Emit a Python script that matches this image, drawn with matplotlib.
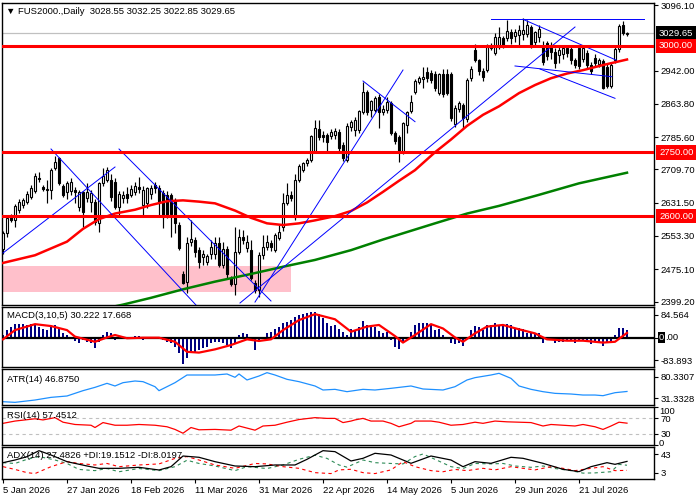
import numpy as np
import matplotlib
matplotlib.use("Agg")
from matplotlib import pyplot as plt

plt.rcParams['font.family'] = ['Liberation Sans', 'DejaVu Sans']
plt.rcParams['font.size'] = 6.8

HEADER = "\u25BC FUS2000.,Daily  3028.55 3032.25 3022.85 3029.65"
MACD_TITLE = "MACD(3,10,5) 30.222 17.668"
ATR_TITLE = "ATR(14) 46.8750"
RSI_TITLE = "RSI(14) 57.4512"
ADX_TITLE = "ADX(14) 27.4826 +DI:19.1512 -DI:8.0197"

DATE_TICKS = [0, 16, 32, 48, 64, 80, 96, 112, 128, 144]
DATE_LABELS = ["5 Jan 2026", "27 Jan 2026", "18 Feb 2026", "11 Mar 2026", "31 Mar 2026",
               "22 Apr 2026", "14 May 2026", "5 Jun 2026", "29 Jun 2026", "21 Jul 2026"]

# daily candles
OPENS = [2522, 2560, 2598, 2590, 2614, 2626, 2634, 2645, 2660, 2690,
         2668, 2662, 2662, 2712, 2736, 2671, 2656, 2660, 2661, 2622,
         2657, 2642, 2632, 2634, 2584, 2677, 2686, 2685, 2680, 2622,
         2642, 2653, 2650, 2657, 2669, 2626, 2630, 2653, 2673, 2665,
         2655, 2650, 2650, 2638, 2579, 2463, 2446, 2538, 2544, 2520,
         2503, 2493, 2511, 2511, 2536, 2485, 2522, 2454, 2440, 2516,
         2552, 2524, 2520, 2442, 2426, 2508, 2528, 2536, 2520, 2548,
         2575, 2630, 2650, 2599, 2686, 2708, 2724, 2733, 2752, 2804,
         2790, 2790, 2788, 2790, 2798, 2768, 2733, 2810, 2802, 2802,
         2845, 2892, 2849, 2849, 2880, 2845, 2849, 2865, 2796, 2786,
         2751, 2814, 2847, 2892, 2914, 2922, 2938, 2937, 2935, 2890,
         2934, 2934, 2933, 2816, 2852, 2860, 2828, 2924, 2990, 2966,
         2942, 2943, 2996, 2984, 2998, 3018, 3018, 3032, 3024, 3026,
         3028, 3028, 3045, 3008, 3020, 3000, 3006, 3002, 2985, 2978,
         2982, 2994, 2992, 2966, 2994, 2970, 2984, 2955, 2972, 2958,
         2964, 2950, 2905, 2967, 2992, 3050, 3028.55]
HIGHS = [2566, 2601, 2604, 2628, 2640, 2642, 2660, 2672, 2702, 2703,
         2672, 2685, 2712, 2742, 2740, 2675, 2682, 2690, 2668, 2662,
         2660, 2677, 2662, 2640, 2680, 2712, 2715, 2700, 2690, 2660,
         2660, 2668, 2672, 2680, 2692, 2670, 2668, 2672, 2680, 2672,
         2662, 2658, 2654, 2642, 2585, 2470, 2550, 2590, 2550, 2528,
         2520, 2512, 2545, 2550, 2552, 2540, 2530, 2460, 2575, 2570,
         2568, 2555, 2545, 2450, 2515, 2555, 2556, 2545, 2560, 2578,
         2655, 2677, 2660, 2700, 2722, 2728, 2736, 2790, 2827, 2826,
         2800, 2795, 2805, 2808, 2805, 2775, 2818, 2826, 2832, 2850,
         2915, 2896, 2872, 2883, 2886, 2860, 2880, 2870, 2800, 2790,
         2822, 2848, 2885, 2922, 2930, 2950, 2950, 2944, 2940, 2937,
         2946, 2945, 2938, 2860, 2870, 2866, 2925, 2952, 3005, 2970,
         2948, 3004, 3006, 3030, 3045, 3024, 3061, 3040, 3040, 3050,
         3065, 3062, 3050, 3036, 3050, 3012, 3012, 3010, 2995, 2998,
         3002, 3000, 2998, 2972, 2998, 2998, 2990, 2962, 2980, 2972,
         2970, 2958, 2962, 2998, 3052, 3058, 3032.25]
LOWS = [2510, 2552, 2585, 2575, 2608, 2620, 2628, 2640, 2655, 2680,
        2660, 2630, 2640, 2708, 2672, 2645, 2640, 2650, 2630, 2612,
        2575, 2632, 2610, 2578, 2563, 2670, 2680, 2636, 2616, 2602,
        2630, 2630, 2645, 2650, 2655, 2603, 2620, 2640, 2655, 2598,
        2571, 2596, 2552, 2560, 2520, 2440, 2420, 2530, 2505, 2477,
        2485, 2484, 2500, 2500, 2480, 2478, 2455, 2436, 2415, 2510,
        2535, 2515, 2450, 2420, 2410, 2500, 2520, 2518, 2515, 2544,
        2565, 2625, 2635, 2590, 2680, 2704, 2718, 2728, 2748, 2780,
        2775, 2748, 2782, 2782, 2752, 2730, 2728, 2800, 2788, 2796,
        2840, 2838, 2834, 2845, 2806, 2838, 2842, 2790, 2770, 2728,
        2745, 2795, 2842, 2888, 2910, 2900, 2915, 2912, 2895, 2884,
        2880, 2884, 2824, 2810, 2845, 2806, 2820, 2918, 2962, 2932,
        2918, 2938, 2990, 2978, 2992, 2995, 3012, 3005, 3010, 3000,
        3015, 3020, 2995, 3002, 3010, 2955, 2968, 2970, 2948, 2960,
        2970, 2975, 2958, 2948, 2946, 2962, 2948, 2935, 2950, 2950,
        2898, 2900, 2900, 2960, 2986, 3025, 3022.85]
CLOSES = [2560, 2595, 2590, 2624, 2634, 2638, 2652, 2666, 2695, 2688,
          2664, 2664, 2708, 2726, 2677, 2650, 2678, 2680, 2656, 2657,
          2610, 2657, 2655, 2587, 2677, 2694, 2708, 2645, 2622, 2652,
          2650, 2642, 2663, 2671, 2663, 2661, 2665, 2665, 2665, 2634,
          2599, 2603, 2606, 2583, 2524, 2442, 2536, 2546, 2516, 2493,
          2512, 2506, 2527, 2536, 2485, 2522, 2465, 2440, 2516, 2552,
          2544, 2540, 2454, 2426, 2508, 2528, 2540, 2528, 2556, 2563,
          2630, 2650, 2642, 2685, 2718, 2724, 2733, 2788, 2806, 2787,
          2786, 2775, 2797, 2800, 2760, 2736, 2812, 2820, 2826, 2847,
          2892, 2845, 2870, 2877, 2845, 2851, 2869, 2796, 2777, 2751,
          2818, 2844, 2869, 2918, 2924, 2926, 2925, 2920, 2902, 2933,
          2888, 2890, 2830, 2855, 2865, 2830, 2920, 2946, 2967, 2940,
          2926, 2998, 3001, 3022, 3020, 2999, 3035, 3018, 3033, 3038,
          3038, 3050, 3002, 3032, 3040, 2963, 2976, 2985, 2960, 2990,
          2996, 2984, 2966, 2955, 2952, 2994, 2955, 2940, 2959, 2967,
          2902, 2905, 2955, 2992, 3046, 3030, 3029.65]
LAST_PRICE = 3029.65

# moving averages (bar index, price)
MA_RED_X = [0, 8, 16, 20, 24, 28, 33, 37, 41, 45, 49, 53, 58, 62, 66, 70, 74, 78,
            83, 87, 91, 95, 99, 103, 108, 112, 116, 120, 124, 129, 133, 137, 141,
            145, 150, 156]
MA_RED_Y = [2490, 2508, 2540, 2570, 2593, 2606, 2615, 2626, 2635, 2637, 2634, 2630,
            2613, 2596, 2583, 2579, 2583, 2590, 2600, 2612, 2632, 2657, 2683, 2708,
            2750, 2780, 2812, 2838, 2858, 2889, 2908, 2924, 2935, 2943, 2955, 2968]
MA_GREEN_X = [22, 30, 37, 45, 53, 62, 70, 78, 87, 95, 108, 116, 124, 134, 144, 156]
MA_GREEN_Y = [2376, 2392, 2408, 2428, 2446, 2464, 2481, 2497, 2520, 2545, 2583,
              2606, 2624, 2650, 2677, 2702]

LEVELS = [3000.00, 2750.00, 2600.00]
ZONE = (-0.25, 72, 2422, 2483)   # start bar, end bar, low, high

# trend lines: start bar, start price, end bar, end price
TRENDLINES = [
    (12, 2757.7, 48.25, 2391.0),
    (29, 2757.7, 67, 2400.5),
    (0, 2513.3, 28, 2715.4),
    (63, 2398.0, 100, 2943.3),
    (59.25, 2395.8, 143, 3044.4),
    (90, 2917.5, 103, 2821.9),
    (122, 3062.5, 160.25, 3062.5),
    (130, 3062.5, 153.25, 2966.8),
    (128, 2952.8, 152.2, 2927.6),
    (134.25, 2945.7, 153, 2876.8),
]

PRICE_TICKS = [3096.10, 2942.00, 2863.80, 2785.60, 2709.70, 2631.50, 2553.30, 2475.10, 2399.20]

MACD_MAIN = [10, 28, 41, 50, 50, 50, 47, 50, 47, 41,
             31, 28, 41, 47, 34, 16, 10, 4, -12, -21,
             -9, -15, -21, -37, -15, 10, 22, 16, -9, -6,
             -2, 1, 4, 6, 6, -9, -6, 1, 4, -6,
             -9, -15, -21, -33, -58, -98, -76, -58, -52, -46,
             -39, -33, -21, -15, -15, -21, -27, -39, -21, 10,
             18, 14, -6, -46, -11, 4, 18, 22, 31, 38,
             53, 59, 65, 77, 84, 87, 90, 96, 95, 87,
             71, 53, 43, 47, 31, 22, 10, 31, 26, 41,
             62, 47, 41, 41, 26, 18, 22, -9, -33, -43,
             -15, 4, 22, 47, 53, 53, 53, 47, 28, 31,
             10, 4, -21, -23, -18, -31, 4, 28, 43, 41,
             28, 47, 47, 55, 47, 47, 50, 47, 34, 34,
             31, 16, 16, 16, 16, -21, -6, -9, -18, -15,
             -15, -11, -9, -21, -11, -9, -15, -23, -15, -18,
             -31, -21, -18, 10, 35, 36, 30.222]
MACD_SIG_X = [0, 3, 8, 12, 16, 18, 23, 26, 28, 31, 35, 39, 43, 46, 49, 53, 57, 61,
              64, 67, 70, 74, 78, 83, 87, 91, 94, 98, 100, 103, 107, 110, 113, 115,
              118, 121, 125, 129, 133, 136, 141, 145, 150, 153, 156]
MACD_SIG_Y = [-6, 28, 50, 43, 28, 4, -15, 1, 10, -2, 0, 0, -15, -52, -55, -43, -27, -6,
              -12, -6, 28, 65, 87, 68, 22, 41, 47, 6, -18, 10, 50, 34, 1, -15,
              16, 41, 47, 31, 16, -6, -11, -11, -18, -15, 17.668]

ATR_X = [0, 3, 8, 12, 16, 20, 23, 26, 28, 30, 33, 35, 38, 39, 41, 43, 46, 49, 53, 56,
         58, 59, 61, 64, 66, 68, 71, 74, 78, 80, 83, 86, 90, 93, 97, 102, 105, 110,
         113, 116, 118, 122, 124, 127, 129, 132, 135, 138, 142, 145, 148, 150, 153, 156]
ATR_Y = [23.7, 22.2, 27.5, 33.5, 36.6, 48.7, 56.2, 65.3, 59.3, 66.8, 70.6, 69.1, 57.7,
         48.7, 57.7, 66.8, 84.2, 84.2, 84.2, 86.5, 79.0, 86.5, 72.9, 81.9, 89.5, 84.2,
         74.4, 69.1, 59.3, 50.2, 51.7, 46.4, 51.7, 50.2, 54.0, 59.3, 52.5, 50.2, 57.7,
         72.9, 78.2, 84.2, 88.0, 76.6, 59.3, 51.7, 46.4, 42.6, 41.1, 38.8, 38.8, 37.3,
         44.1, 46.875]

RSI_X = [0, 3, 8, 10, 13, 15, 18, 22, 23, 25, 28, 31, 34, 38, 41, 43, 45, 47, 49, 53,
         57, 59, 63, 65, 68, 71, 74, 78, 81, 83, 85, 87, 88, 90, 92, 95, 97, 99, 102,
         103, 107, 109, 112, 115, 118, 120, 123, 126, 129, 132, 135, 137, 140, 143,
         145, 148, 150, 152, 154, 156]
RSI_Y = [57, 63, 69, 66, 72, 60, 54, 52, 46, 59, 52, 52, 54, 52, 48, 41, 31, 46, 40, 41,
         39, 50, 39, 50, 52, 60, 67, 72, 70, 70, 59, 63, 66, 70, 63, 63, 57, 48, 57,
         63, 63, 60, 52, 54, 60, 57, 63, 61, 60, 59, 50, 54, 52, 50,
         54, 48, 41, 50, 60, 57.45]

ADX_X = [0, 3, 6, 9, 12, 16, 21, 24, 29, 34, 39, 42, 45, 49, 53, 58, 63, 68, 73, 76,
         80, 83, 87, 90, 93, 97, 102, 107, 112, 115, 118, 122, 127, 130, 135, 140,
         144, 147, 151, 153, 156]
ADX_Y = [24.7, 30.5, 37.8, 50.8, 41.4, 26.9, 17.5, 12.4, 12.4, 14.6, 8.8, 16.0, 39.2,
         36.4, 26.9, 17.5, 16.0, 19.7, 19.7, 32.0, 50.8, 48.7, 28.4, 34.2, 45.1, 41.4,
         23.3, 39.2, 30.5, 16.0, 26.9, 23.3, 36.4, 34.2, 23.3, 10.3, 5.2, 16.0, 24.7,
         21.1, 27.48]
PDI_X = [0, 3, 6, 9, 13, 16, 19, 23, 26, 29, 34, 39, 43, 46, 49, 53, 58, 61, 66, 70,
         74, 78, 81, 84, 86, 90, 93, 97, 100, 103, 105, 108, 112, 115, 118, 122, 125,
         128, 132, 135, 138, 142, 145, 148, 152, 154, 156]
PDI_Y = [24.7, 23, 32, 38, 30.5, 23, 10, 7.4, 12, 5, 12, 7.4, 16, 30, 23, 17.5, 7.4,
         16, 12, 19.7, 32, 41, 34, 19.7, 15, 30.5, 24.7, 23, 22, 38, 43.6, 32, 16, 12,
         23, 22, 23, 17.5, 14.6, 17.5, 12, 7.4, 2, 2.5, 5, 21, 19.15]
MDI_X = [0, 3, 6, 8, 12, 16, 19, 23, 26, 29, 34, 39, 43, 46, 49, 53, 58, 63, 66, 70,
         74, 78, 82, 84, 87, 90, 93, 97, 100, 103, 107, 110, 113, 116, 120, 123, 127,
         130, 133, 137, 140, 143, 147, 150, 153, 156]
MDI_Y = [16, 10, 3, 1, 16, 27, 23, 19.7, 23, 16, 19.7, 22, 34, 38, 30.5, 19.7, 12.4,
         23, 22, 16, 12.4, 3, 1, 9, 10.3, 3, 1, 9, 27, 16, 7.4, 5, 10, 7.4, 12.4, 9,
         16, 12.4, 9, 16, 12.4, 7.4, 12.4, 16, 7.4, 8.02]

RED = '#ff0000'
XMIN, XMAX = -0.25, 162.75
LABEL_X = 1 + 5 / 652   # right-axis label start, in axes fraction

fig = plt.figure(figsize=(7, 5), dpi=100)


def panel(top, bottom):
    return fig.add_axes([2 / 700, 1 - bottom / 500, 652 / 700, (bottom - top) / 500])


ax = panel(3, 305)
ax_macd = panel(307, 367)
ax_atr = panel(369, 405)
ax_rsi = panel(407, 445)
ax_adx = panel(447, 479)
axes = [ax, ax_macd, ax_atr, ax_rsi, ax_adx]

for a in axes:
    a.set_xlim(XMIN, XMAX)
    a.yaxis.tick_right()
    a.tick_params(axis='y', direction='out', length=3, width=0.8, pad=2, labelsize=6.8)
    a.tick_params(axis='x', bottom=False, labelbottom=False)
    for s in a.spines.values():
        s.set_linewidth(1.0)
        s.set_color('black')

# ---- price panel ----
x = np.arange(len(CLOSES))
o, h, l, c = (np.array(v, dtype=float) for v in (OPENS, HIGHS, LOWS, CLOSES))
up = c >= o
body_lo = np.minimum(o, c)
body_h = np.maximum(np.abs(c - o), 0.8)

z0, z1, zlo, zhi = ZONE
ax.fill_between([z0, z1], zlo, zhi, color='#ffc0cb', lw=0, zorder=1)
ax.axhline(LAST_PRICE, color='#c0c0c0', lw=0.9, zorder=1.5)

ax.vlines(x, l, h, color='black', lw=0.85, zorder=3)
ax.bar(x[up], body_h[up], bottom=body_lo[up], width=0.68, facecolor='white',
       edgecolor='black', lw=0.8, zorder=4)
ax.bar(x[~up], body_h[~up], bottom=body_lo[~up], width=0.68, facecolor='black',
       edgecolor='black', lw=0.8, zorder=4)

ax.plot(MA_GREEN_X, MA_GREEN_Y, color='#008000', lw=1.8, zorder=5)
ax.plot(MA_RED_X, MA_RED_Y, color=RED, lw=1.8, zorder=5)
for x0, y0, x1, y1 in TRENDLINES:
    ax.plot([x0, x1], [y0, y1], color='#0000ff', lw=0.7, zorder=5)
for lev in LEVELS:
    ax.axhline(lev, color=RED, lw=2.2, zorder=6)

ax.set_ylim(2391.1, 3100.8)
ax.set_yticks(PRICE_TICKS)
ax.set_yticklabels([f"{v:.2f}" for v in PRICE_TICKS])


def boxed(a, val, txt, fc, pad=0.3):
    a.text(LABEL_X, val, txt, transform=a.get_yaxis_transform(), ha='left',
           va='center', color='white', fontsize=6.8, clip_on=False, zorder=10,
           bbox=dict(boxstyle=f'square,pad={pad}', fc=fc, ec='none'))


boxed(ax, LAST_PRICE, f"{LAST_PRICE:.2f}", 'black')
for lev in LEVELS:
    boxed(ax, lev, f"{lev:.2f}", RED)

# ---- MACD ----
ax_macd.bar(x, MACD_MAIN, width=0.6, color='#000080', zorder=2)
ax_macd.axhline(0, color='black', lw=1.6, zorder=3)
ax_macd.plot(MACD_SIG_X, MACD_SIG_Y, color=RED, lw=1.6, zorder=4)
ax_macd.set_ylim(-108.1, 113.3)
ax_macd.set_yticks([84.564, 0, -83.893])
ax_macd.set_yticklabels(["84.564", "", "-83.893"])
boxed(ax_macd, 0, "0", 'black', pad=0.1)
ax_macd.text(LABEL_X + 6 / 652, 0, ".00", transform=ax_macd.get_yaxis_transform(),
             ha='left', va='center', fontsize=6.8, clip_on=False)

# ---- ATR ----
ax_atr.plot(ATR_X, ATR_Y, color='#1e90ff', lw=0.9)
ax_atr.set_ylim(16.2, 97.8)
ax_atr.set_yticks([80.3307, 31.3328])
ax_atr.set_yticklabels(["80.3307", "31.3328"])

# ---- RSI ----
for lev in (70, 30):
    ax_rsi.axhline(lev, color='#c0c0c0', lw=0.8, ls=(0, (3, 3)))
ax_rsi.plot(RSI_X, RSI_Y, color=RED, lw=0.9)
ax_rsi.set_ylim(0, 100)
ax_rsi.set_yticks([100, 70, 30, 0])
ax_rsi.set_yticklabels(["", "70", "30", ""])
ax_rsi.text(LABEL_X, 100, "100", transform=ax_rsi.get_yaxis_transform(),
            ha='left', va='top', fontsize=6.8, clip_on=False)
ax_rsi.annotate("0", xy=(LABEL_X, 0), xycoords=ax_rsi.get_yaxis_transform(),
                xytext=(0, -2), textcoords='offset points',
                ha='left', va='bottom', fontsize=6.8, annotation_clip=False)

# ---- ADX ----
ax_adx.plot(PDI_X, PDI_Y, color='#2e8b57', lw=0.8, ls=(0, (3, 3)))
ax_adx.plot(MDI_X, MDI_Y, color=RED, lw=0.8, ls=(0, (3, 3)))
ax_adx.plot(ADX_X, ADX_Y, color='black', lw=0.9)
ax_adx.set_ylim(-10.8, 58.8)
ax_adx.set_yticks([43, 3])
ax_adx.set_yticklabels(["43", "3"])

ax_adx.tick_params(axis='x', bottom=True, labelbottom=True, direction='out',
                   length=3, width=0.8, pad=2, labelsize=6.8)
ax_adx.set_xticks(DATE_TICKS)
ax_adx.set_xticklabels(DATE_LABELS, ha='left')

# ---- window captions ----
fig.text(6 / 700, 1 - 11 / 500, HEADER, va='center', ha='left', fontsize=6.8)
fig.text(7 / 700, 1 - 316 / 500, MACD_TITLE, va='center', ha='left', fontsize=6.8)
fig.text(7 / 700, 1 - 379 / 500, ATR_TITLE, va='center', ha='left', fontsize=6.8)
fig.text(7 / 700, 1 - 416 / 500, RSI_TITLE, va='center', ha='left', fontsize=6.8)
fig.text(7 / 700, 1 - 456 / 500, ADX_TITLE, va='center', ha='left', fontsize=6.8)

fig.savefig("out.png", dpi=100)
